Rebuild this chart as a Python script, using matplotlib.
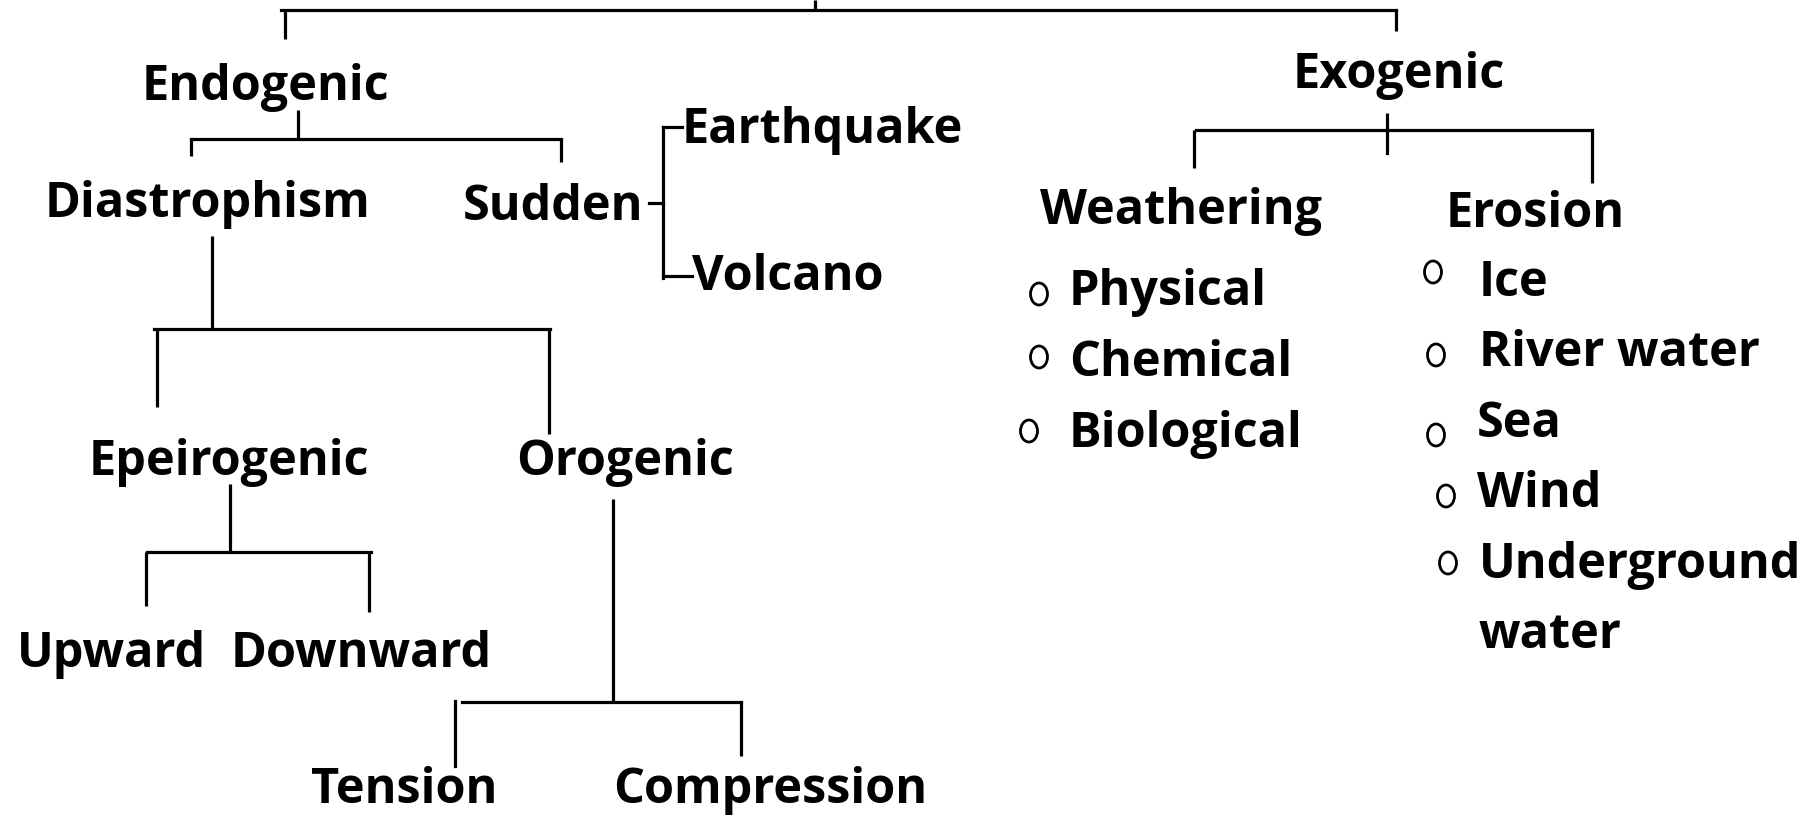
"""
Landform-process tree (Endogenic / Exogenic), redrawn with matplotlib.
Coordinates are in image pixels, origin top-left.
"""
import matplotlib
matplotlib.use("Agg")
import matplotlib.pyplot as plt
from matplotlib.patches import Ellipse

W, H = 1804, 818

# node labels
endo_labels = ["Endogenic", "Diastrophism", "Sudden", "Earthquake", "Volcano",
               "Epeirogenic", "Orogenic", "Upward", "Downward",
               "Tension", "Compression"]
exo_labels = ["Exogenic", "Weathering", "Erosion"]
weathering_items = ["Physical", "Chemical", "Biological"]
erosion_items = ["Ice", "River water", "Sea", "Wind", "Underground"]
erosion_wrap = ["water"]

# layout: left x, baseline y of each label
label_pos = {
    "Endogenic": (142, 100), "Diastrophism": (45, 217), "Sudden": (463, 220),
    "Earthquake": (682, 143), "Volcano": (692, 290),
    "Epeirogenic": (89, 475), "Orogenic": (516, 475),
    "Upward": (17, 667), "Downward": (231, 667),
    "Tension": (311, 803), "Compression": (613, 803),
    "Exogenic": (1293, 88), "Weathering": (1040, 224), "Erosion": (1446, 227),
}
weathering_pos = [(1069, 305), (1069, 376), (1069, 447)]
weathering_dots = [(1039, 294), (1039, 357), (1029, 431)]
erosion_pos = [(1479, 296), (1479, 366), (1477, 437), (1477, 507), (1479, 578)]
erosion_dots = [(1433, 272), (1436, 355), (1436, 435), (1446, 496), (1448, 563)]
wrap_pos = [(1479, 648)]

# brackets: (stem x, stem top, bar y, bar x0, bar x1, [(drop x, drop bottom), ...])
brackets = [
    (815, 0, 10, 281, 1396, [(285, 39), (1396, 31)]),
    (298, 110, 139, 191, 561, [(191, 156), (561, 162)]),
    (212, 236, 329, 154, 550, [(157, 407), (549, 434)]),
    (230, 484, 552, 147, 371, [(146, 606), (369, 612)]),
    (613, 499, 702, 462, 741, [(741, 756)]),
    (1387, 113, 130, 1196, 1592, [(1194, 168), (1592, 183)]),
]
# loose bits that don't fit the bracket shape
extra_lines = [
    ([455, 455], [701, 766]),          # Tension drop, drawn apart from the bar
    ([1387, 1387], [130, 153]),        # Exogenic stem pokes through its bar
    ([649, 663], [203, 203]),          # Sudden -> fork
    ([663, 663], [127, 278]),
    ([663, 682], [127, 127]),          # -> Earthquake
    ([663, 692], [276, 276]),          # -> Volcano
]

LW = 2.3
FS = 35
FONT = dict(family=["Open Sans", "DejaVu Sans"], fontweight="bold",
            fontsize=FS, color="black", ha="left", va="baseline")

fig = plt.figure(figsize=(W / 100, H / 100), dpi=100)
ax = fig.add_axes([0, 0, 1, 1])
ax.set_xlim(0, W)
ax.set_ylim(H, 0)
ax.axis("off")

for sx, st, by, x0, x1, drops in brackets:
    ax.plot([sx, sx], [st, by], color="black", lw=LW, solid_capstyle="butt")
    ax.plot([x0, x1], [by, by], color="black", lw=LW, solid_capstyle="projecting")
    for dx, db in drops:
        ax.plot([dx, dx], [by, db], color="black", lw=LW, solid_capstyle="butt")

for xs, ys in extra_lines:
    ax.plot(xs, ys, color="black", lw=LW, solid_capstyle="projecting")

for name in endo_labels + exo_labels:
    x, y = label_pos[name]
    ax.text(x, y, name, **FONT)

for items, pos in [(weathering_items, weathering_pos), (erosion_items, erosion_pos),
                   (erosion_wrap, wrap_pos)]:
    for t, (x, y) in zip(items, pos):
        ax.text(x, y, t, **FONT)

for cx, cy in weathering_dots + erosion_dots:
    ax.add_patch(Ellipse((cx, cy), 17, 22, fill=False, edgecolor="black", lw=2.0))

fig.savefig("out.png", dpi=100)
